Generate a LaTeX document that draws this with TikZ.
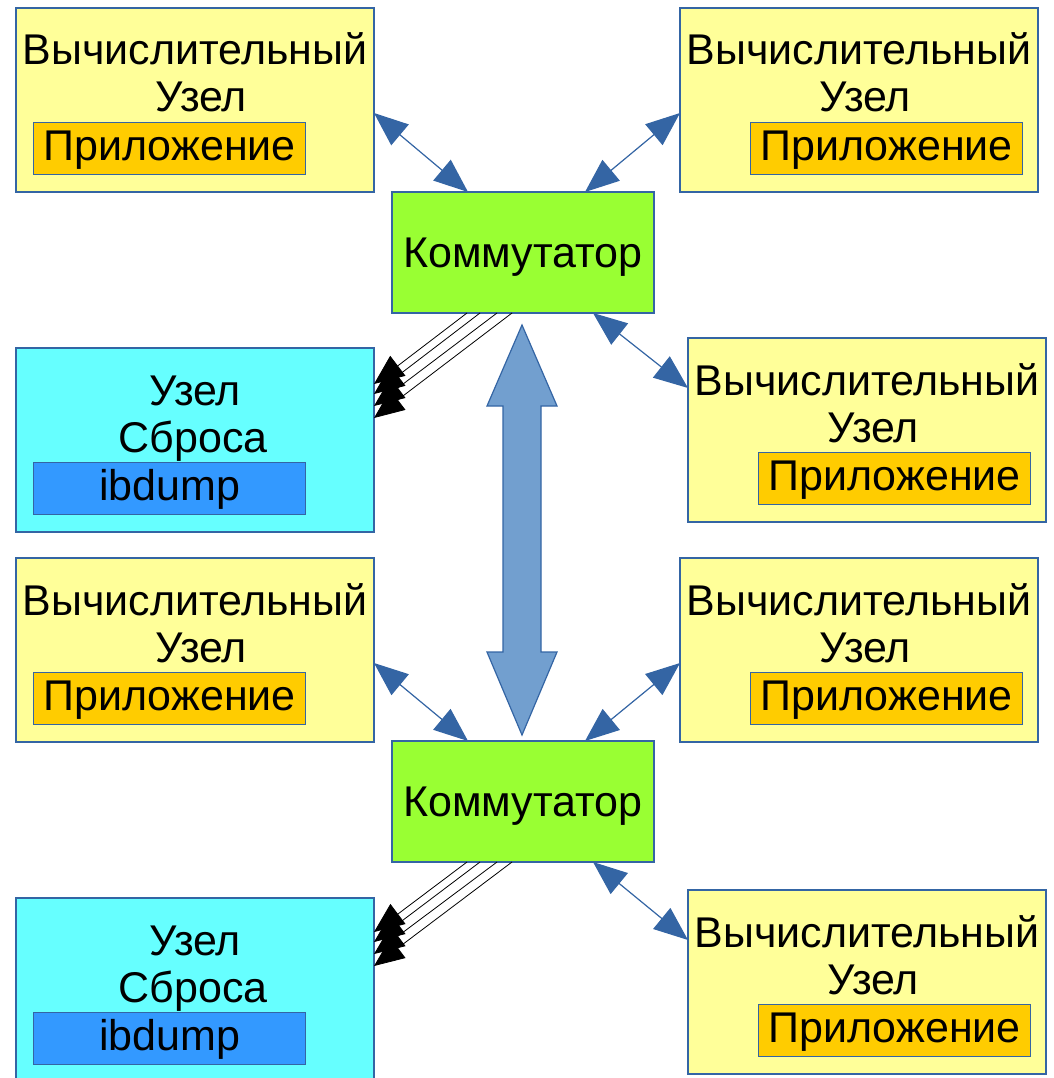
\documentclass[tikz,border=0pt]{standalone}
\usepackage{fontspec}
\setmainfont{Liberation Sans}
\usetikzlibrary{arrows.meta,calc}
\definecolor{bordc}{HTML}{3465A4}
\definecolor{compyellow}{HTML}{FFFF99}
\definecolor{appgold}{HTML}{FFCC00}
\definecolor{swgreen}{HTML}{99FF33}
\definecolor{dumpcyan}{HTML}{66FFFF}
\definecolor{ibblue}{HTML}{3399FF}
\definecolor{bigfill}{HTML}{729FCF}
\tikzset{
  outerbox/.style={draw=bordc, line width=1.2pt, anchor=north west, inner sep=0pt, outer sep=0pt},
  compbox/.style={outerbox, fill=compyellow, minimum width=358pt, minimum height=184pt},
  dumpbox/.style={outerbox, fill=dumpcyan, minimum width=358pt, minimum height=184pt},
  swbox/.style={outerbox, fill=swgreen, minimum width=262pt, minimum height=121pt,
     font=\fontsize{43}{47}\selectfont, text height=31pt, text depth=2pt},
  lbl/.style={anchor=base, inner sep=0pt, font=\fontsize{43}{47}\selectfont},
  innerbox/.style={draw=bordc, line width=1.2pt, anchor=north west, inner sep=0pt,
     minimum width=272pt, minimum height=52pt, font=\fontsize{43}{47}\selectfont,
     text height=31pt, text depth=8pt},
  appbox/.style={innerbox, fill=appgold},
  ibbox/.style={innerbox, fill=ibblue},
  biarrow/.style={draw=bordc, fill=bordc, line width=1.2pt,
     {Triangle[length=34pt,width=27pt]}-{Triangle[length=34pt,width=27pt]}},
  blkarrow/.style={draw=black, line width=0.8pt, -{Triangle[length=30pt,width=25pt]}},
  bigarrow/.style={draw=bordc, fill=bigfill, line width=1.2pt, line join=miter},
}
\newcommand\computebox[4]{%
  \node[compbox] (#1) at (#2,#3) {};
  \node[lbl] (#1la) at ($(#1.north west)+(179,57)$) {Вычислительный};
  \node[lbl] (#1lb) at ($(#1.north west)+(185,104)$) {Узел};
  \node[appbox] (#1app) at ($(#1.north west)+(#4,114)$) {Приложение};
}
\newcommand\dumpnode[3]{%
  \node[dumpbox] (#1) at (#2,#3) {};
  \node[lbl] (#1la) at ($(#1.north west)+(179,57)$) {Узел};
  \node[lbl] (#1lb) at ($(#1.north west)+(177,104)$) {Сброса};
  \node[ibbox] (#1ib) at ($(#1.north west)+(17,114)$) {ibdump};
}
\begin{document}
\begin{tikzpicture}[x=1pt,y=-1pt]
\useasboundingbox (0,0) rectangle (1053,1078);
% compute nodes
\computebox{ca}{16}{8}{17}
\computebox{cb}{680}{8}{70}
\computebox{cc}{688}{338}{70}
\computebox{cd}{16}{558}{17}
\computebox{ce}{680}{558}{70}
\computebox{cf}{688}{890}{70}
% dump nodes
\dumpnode{da}{16}{348}
\dumpnode{db}{16}{898}
% switches
\node[swbox] (swa) at (392,192) {Коммутатор};
\node[swbox] (swb) at (392,741) {Коммутатор};
% big double arrow between switches
\coordinate (bigtop) at (522,325);
\coordinate (bigbot) at (522,735);
\draw[bigarrow] (bigtop) -- (557,406) -- (541,406) -- (541,652) -- (557,652) -- (bigbot)
  -- (487,652) -- (503,652) -- (503,406) -- (487,406) -- cycle;
% small double arrows, upper switch
\draw[biarrow] ([yshift=-13pt]ca.east) -- ([xshift=-55pt]swa.north);
\draw[biarrow] ([yshift=-13pt]cb.west) -- ([xshift=62pt]swa.north);
\draw[biarrow] ([xshift=70pt]swa.south) -- ([yshift=42pt]cc.west);
% small double arrows, lower switch
\draw[biarrow] ([yshift=-13pt]cd.east) -- ([xshift=-55pt]swb.north);
\draw[biarrow] ([yshift=-13pt]ce.west) -- ([xshift=62pt]swb.north);
\draw[biarrow] ([xshift=70pt]swb.south) -- ([yshift=42pt]cf.west);
% black multi-line arrows to dump nodes
\draw[blkarrow] ([xshift=-56pt]swa.south) -- ([yshift=56pt]da.east);
\draw[blkarrow] ([xshift=-43pt]swa.south) -- ([yshift=46pt]da.east);
\draw[blkarrow] ([xshift=-26pt]swa.south) -- ([yshift=34pt]da.east);
\draw[blkarrow] ([xshift=-11pt]swa.south) -- ([yshift=22pt]da.east);
\draw[blkarrow] ([xshift=-56pt]swb.south) -- ([yshift=58pt]db.east);
\draw[blkarrow] ([xshift=-43pt]swb.south) -- ([yshift=48pt]db.east);
\draw[blkarrow] ([xshift=-26pt]swb.south) -- ([yshift=36pt]db.east);
\draw[blkarrow] ([xshift=-11pt]swb.south) -- ([yshift=24pt]db.east);
\end{tikzpicture}
\end{document}
